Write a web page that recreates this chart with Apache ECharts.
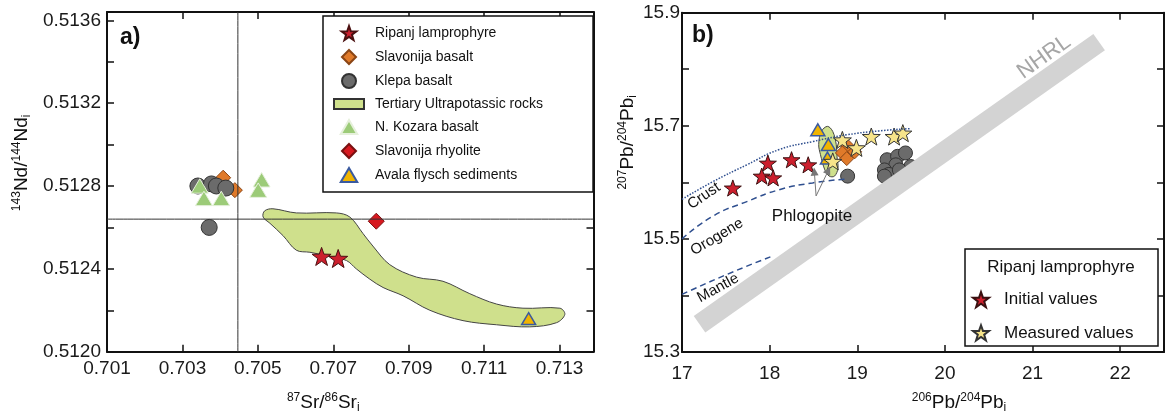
<!DOCTYPE html>
<html>
<head>
<meta charset="utf-8">
<script src="https://cdn.jsdelivr.net/npm/echarts@6/dist/echarts.min.js"></script>
<style>
  html, body { margin: 0; padding: 0; background: #fff; }
  #chart { width: 1167px; height: 419px; }
</style>
</head>
<body>
<div id="chart"></div>
<script>
// ---- panel a: Nd vs Sr ----
const ripanjA = [[0.70669, 0.51246], [0.70713, 0.51245]];
const slavBasaltA = [[0.70408, 0.51284], [0.70439, 0.51278]];
const klepaA = [[0.70341, 0.51280], [0.70377, 0.51281], [0.70390, 0.51280], [0.70415, 0.51279], [0.70371, 0.51260]];
const kozaraA = [[0.70346, 0.51280], [0.70357, 0.51274], [0.70403, 0.51274], [0.70510, 0.51283], [0.70501, 0.51278]];
const rhyoliteA = [[0.70814, 0.51263]];
const avalaA = [[0.71218, 0.51216]];
const ultrapotassicA = [
  [0.70518, 0.51268], [0.70540, 0.51269], [0.70602, 0.51267], [0.70708, 0.51267], [0.70744, 0.51265],
  [0.70779, 0.51257], [0.70805, 0.51251], [0.70850, 0.51242], [0.70921, 0.51236], [0.70991, 0.51234],
  [0.71062, 0.51228], [0.71133, 0.51223], [0.71203, 0.51221], [0.71301, 0.51221], [0.71314, 0.51218],
  [0.71292, 0.51214], [0.71221, 0.51212], [0.71133, 0.51213], [0.71044, 0.51215], [0.70956, 0.51220],
  [0.70885, 0.51227], [0.70832, 0.51231], [0.70797, 0.51235], [0.70761, 0.51240], [0.70735, 0.51244],
  [0.70691, 0.51246], [0.70638, 0.51248], [0.70602, 0.51249], [0.70567, 0.51256], [0.70532, 0.51262],
  [0.70514, 0.51265]
];
const chur = 0.51264;   // horizontal reference line
const bse = 0.70447;    // vertical reference line
const xTicksA = [0.701, 0.7139, 0.002];
const yTicksA = [0.5120, 0.51364, 0.0002];

// ---- panel b: Pb-Pb ----
const initialB = [[17.58, 15.590], [17.98, 15.634], [17.91, 15.611], [18.04, 15.608], [18.25, 15.640], [18.44, 15.631]];
const measuredB = [[18.72, 15.637], [18.83, 15.675], [18.99, 15.661], [19.16, 15.681], [19.42, 15.681], [19.52, 15.687]];
const klepaB = [[18.89, 15.611], [19.34, 15.640], [19.46, 15.646], [19.55, 15.652], [19.44, 15.631], [19.61, 15.628],
  [19.31, 15.622], [19.36, 15.614], [19.61, 15.617], [19.31, 15.611], [19.48, 15.622]];
const slavBasaltB = [[18.89, 15.664], [18.83, 15.652], [18.97, 15.654], [18.88, 15.642]];
const avalaB = [[18.55, 15.693], [18.67, 15.667], [18.66, 15.643]];
const ultrapotassicB = [[18.66, 15.699], [18.72, 15.690], [18.76, 15.667], [18.77, 15.643], [18.78, 15.625],
  [18.74, 15.611], [18.68, 15.611], [18.63, 15.622], [18.58, 15.649], [18.56, 15.667], [18.59, 15.690]];
const crustCurve = [[17.0, 15.570], [17.35, 15.601], [17.74, 15.631], [18.11, 15.658], [18.49, 15.672], [18.88, 15.684], [19.25, 15.691], [19.60, 15.695]];
const orogeneCurve = [[17.0, 15.500], [17.35, 15.540], [17.74, 15.566], [18.11, 15.587], [18.49, 15.599], [18.88, 15.606]];
const mantleCurve = [[17.0, 15.402], [17.51, 15.437], [18.02, 15.469]];
const nhrl = [[17.2, 15.349], [21.76, 15.848]];
const phlogopiteFrom = [18.53, 15.576];
const phlogopiteTo = [[18.51, 15.619], [18.67, 15.621]];
const xTicksB = [17, 22.5, 1];
const yTicksB = [15.3, 15.9, 0.1];

const FONT = 'Liberation Sans, Arial, sans-serif';
const STAR = 'path://M0,-10 L2.35,-3.24 L9.51,-3.09 L3.8,1.24 L5.88,8.09 L0,4 L-5.88,8.09 L-3.8,1.24 L-9.51,-3.09 L-2.35,-3.24 Z';
const DIAMOND = 'path://M0,-10 L10,0 L0,10 L-10,0 Z';
const TRIANGLE = 'path://M0,0 L10,17 L-10,17 Z';

// axis index of the bottom/left axes of each panel
const A = 0;
const B = 2;

const chart = echarts.init(document.getElementById('chart'));

// label only every "every"-th tick counted from min
function tickLabel(min, step, every, digits) {
  return v => {
    const k = (v - min) / step;
    const r = Math.round(k);
    if (Math.abs(k - r) > 1e-4 || r % every !== 0) return '';
    return v.toFixed(digits);
  };
}

const nameRich = {
  sup: { fontSize: 12, lineHeight: 12, verticalAlign: 'top', fontFamily: FONT, color: '#111' },
  sub: { fontSize: 12, lineHeight: 12, verticalAlign: 'bottom', fontFamily: FONT, color: '#111' }
};

function axis(gridIndex, pos, ticks, opts) {
  const main = pos === 'bottom' || pos === 'left';
  return Object.assign({
    type: 'value',
    gridIndex: gridIndex,
    position: pos,
    min: ticks[0],
    max: ticks[1],
    interval: ticks[2],
    axisLine: { show: true, onZero: false, lineStyle: { color: '#111', width: 2 } },
    axisTick: { show: true, inside: true, length: 7, lineStyle: { color: '#111', width: 1.5 } },
    splitLine: { show: false },
    axisLabel: { show: main, fontSize: 19, color: '#1a1a1a', fontFamily: FONT },
    nameTextStyle: { fontSize: 19, color: '#111', fontFamily: FONT, lineHeight: 22, rich: nameRich }
  }, opts);
}

function polygon(name, ai, pts, fill) {
  return {
    type: 'custom',
    name: name,
    xAxisIndex: ai,
    yAxisIndex: ai,
    silent: true,
    itemStyle: { color: fill, borderColor: '#333', borderWidth: 1 },
    renderItem: (params, api) => ({
      type: 'polygon',
      shape: { points: pts.map(p => api.coord(p)), smooth: 0.35 },
      style: { fill: fill, stroke: '#444', lineWidth: 1 }
    }),
    data: [pts[0]]
  };
}

function scatter(name, ai, data, symbol, size, fill, border, bw) {
  return {
    type: 'scatter',
    name: name,
    xAxisIndex: ai,
    yAxisIndex: ai,
    symbol: symbol,
    symbolSize: size,
    symbolKeepAspect: true,
    itemStyle: { color: fill, borderColor: border, borderWidth: bw || 1, opacity: 1 },
    data: data
  };
}

function line(ai, data, color, width, type) {
  return {
    type: 'line',
    xAxisIndex: ai,
    yAxisIndex: ai,
    smooth: true,
    symbol: 'none',
    silent: true,
    lineStyle: { color: color, width: width, type: type, cap: 'butt' },
    data: data
  };
}

function note(text, x, y, rot, size) {
  return {
    type: 'text', x: x, y: y, z: 20, rotation: rot,
    style: { text: text, fontSize: size, fill: '#111', fontFamily: FONT, align: 'center', verticalAlign: 'middle' }
  };
}

const option = {
  animation: false,
  grid: [
    { left: 107, top: 12, width: 486.5, height: 339.7 },
    { left: 682, top: 12.7, width: 484, height: 340 }
  ],
  xAxis: [
    axis(0, 'bottom', xTicksA, {
      axisLabel: { fontSize: 19, color: '#1a1a1a', fontFamily: FONT, margin: 8, formatter: tickLabel(0.701, 0.002, 1, 3) },
      name: '{sup|87}Sr/{sup|86}Sr{sub|i}', nameLocation: 'middle', nameGap: 40,
      nameTextStyle: { fontSize: 19, color: '#111', fontFamily: FONT, lineHeight: 22, rich: nameRich, padding: [0, 54, 0, 0] }
    }),
    axis(0, 'top', xTicksA, {}),
    axis(1, 'bottom', xTicksB, {
      axisLabel: { fontSize: 19, color: '#1a1a1a', fontFamily: FONT, margin: 12, formatter: tickLabel(17, 1, 1, 0) },
      name: '{sup|206}Pb/{sup|204}Pb{sub|i}', nameLocation: 'middle', nameGap: 40,
      nameTextStyle: { fontSize: 19, color: '#111', fontFamily: FONT, lineHeight: 22, rich: nameRich, padding: [0, 0, 0, 72] }
    }),
    axis(1, 'top', xTicksB, {})
  ],
  yAxis: [
    axis(0, 'left', yTicksA, {
      axisLabel: { fontSize: 19, color: '#1a1a1a', fontFamily: FONT, margin: 6, formatter: tickLabel(0.512, 0.0002, 2, 4) },
      name: '{sup|143}Nd/{sup|144}Nd{sub|i}', nameLocation: 'middle', nameGap: 74,
      nameTextStyle: { fontSize: 19, color: '#111', fontFamily: FONT, lineHeight: 22, rich: nameRich, padding: [0, 0, 0, 38] }
    }),
    axis(0, 'right', yTicksA, {}),
    axis(1, 'left', yTicksB, {
      axisLabel: { fontSize: 19, color: '#1a1a1a', fontFamily: FONT, margin: 2, formatter: tickLabel(15.3, 0.1, 2, 1) },
      name: '{sup|207}Pb/{sup|204}Pb{sub|i}', nameLocation: 'middle', nameGap: 27,
      nameTextStyle: { fontSize: 19, color: '#111', fontFamily: FONT, lineHeight: 22, rich: nameRich, padding: [0, 0, 0, 80] }
    }),
    axis(1, 'right', yTicksB, {})
  ],
  legend: [
    {
      left: 323, top: 16,
      orient: 'vertical',
      itemWidth: 30, itemHeight: 14, itemGap: 8,
      symbolKeepAspect: true,
      padding: [9, 50, 9, 10],
      borderColor: '#111', borderWidth: 1.5,
      backgroundColor: '#fff',
      selectedMode: false,
      textStyle: { fontSize: 14, color: '#111', fontFamily: FONT, padding: [0, 0, 0, 6] },
      data: [
        { name: 'Ripanj lamprophyre' },
        { name: 'Slavonija basalt' },
        { name: 'Klepa basalt' },
        { name: 'Tertiary Ultrapotassic rocks', icon: 'path://M0,0 L30,0 L30,10 L0,10 Z' },
        { name: 'N. Kozara basalt' },
        { name: 'Slavonija rhyolite' },
        { name: 'Avala flysch sediments' }
      ]
    },
    {
      left: 972, top: 291,
      orient: 'vertical',
      itemWidth: 16, itemHeight: 16, itemGap: 16,
      symbolKeepAspect: true,
      padding: 0,
      selectedMode: false,
      z: 10,
      textStyle: { fontSize: 17, color: '#111', fontFamily: FONT, padding: [0, 0, 0, 10] },
      data: ['Initial values', 'Measured values']
    }
  ],
  graphic: [
    { type: 'text', x: 120, y: 26, style: { text: 'a)', fontSize: 23, fontWeight: 'bold', fill: '#111', fontFamily: FONT } },
    { type: 'text', x: 692, y: 24, style: { text: 'b)', fontSize: 23, fontWeight: 'bold', fill: '#111', fontFamily: FONT } },
    { type: 'text', x: 1044, y: 57, z: 20, rotation: 0.62, style: { text: 'NHRL', fontSize: 22, fill: '#a6a6a6', fontFamily: FONT, align: 'center', verticalAlign: 'middle' } },
    note('Crust', 704, 196, 0.6, 15),
    note('Orogene', 717, 237, 0.54, 15),
    note('Mantle', 718, 288, 0.5, 15),
    note('Phlogopite', 812, 216, 0, 17),
    { type: 'rect', z: 8, shape: { x: 965, y: 249, width: 193, height: 97 }, style: { fill: '#fff', stroke: '#111', lineWidth: 1.5 } },
    { type: 'text', z: 9, x: 1061, y: 267, style: { text: 'Ripanj lamprophyre', fontSize: 17, fill: '#111', fontFamily: FONT, align: 'center', verticalAlign: 'middle' } }
  ],
  series: [
    // panel a
    line(A, [[bse, yTicksA[0]], [bse, yTicksA[1]]], '#333', 1, 'solid'),
    line(A, [[xTicksA[0], chur], [xTicksA[1], chur]], '#333', 1, 'solid'),
    polygon('Tertiary Ultrapotassic rocks', A, ultrapotassicA, '#cfe08c'),
    scatter('Slavonija basalt', A, slavBasaltA, DIAMOND, 15, '#e07a2a', '#8a4515', 1),
    scatter('Klepa basalt', A, klepaA, 'circle', 16, '#6b6b6b', '#333', 1),
    scatter('N. Kozara basalt', A, kozaraA, TRIANGLE, 17, '#9ccb78', '#e6f0dc', 1),
    scatter('Slavonija rhyolite', A, rhyoliteA, DIAMOND, 16, '#d71920', '#7a1010', 1),
    scatter('Avala flysch sediments', A, avalaA, TRIANGLE, 14, '#f0b400', '#3a5aa0', 1.5),
    scatter('Ripanj lamprophyre', A, ripanjA, STAR, 19, '#cc1f2d', '#4a1010', 1),
    // panel b
    line(B, nhrl, '#d3d3d3', 20, 'solid'),
    line(B, crustCurve, '#2f4f8f', 1.5, 'dotted'),
    line(B, orogeneCurve, '#2f4f8f', 1.5, [6, 4]),
    line(B, mantleCurve, '#2f4f8f', 1.5, [6, 4]),
    polygon('Tertiary Ultrapotassic rocks', B, ultrapotassicB, '#cfe08c'),
    scatter('Slavonija basalt', B, slavBasaltB, DIAMOND, 14, '#e07a2a', '#8a4515', 1),
    scatter('Klepa basalt', B, klepaB, 'circle', 14, '#6b6b6b', '#333', 1),
    scatter('Avala flysch sediments', B, avalaB, TRIANGLE, 14, '#f0b400', '#3a5aa0', 1.5),
    Object.assign(scatter('Initial values', B, initialB, STAR, 17, '#cc1f2d', '#3a1010', 1), {
      markLine: {
        silent: true,
        label: { show: false },
        symbol: ['none', 'triangle'],
        symbolSize: 8,
        lineStyle: { color: '#777', width: 1, type: 'solid' },
        itemStyle: { color: '#111' },
        data: phlogopiteTo.map(p => [{ coord: phlogopiteFrom }, { coord: p, itemStyle: { color: '#111' } }])
      }
    }),
    scatter('Measured values', B, measuredB, STAR, 18, '#f7e48a', '#333', 1)
  ]
};

chart.setOption(option);
</script>
</body>
</html>
